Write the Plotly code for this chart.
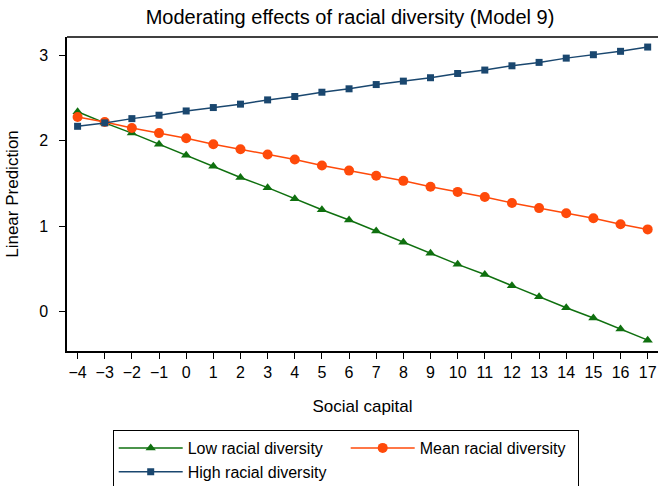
import plotly.graph_objects as go

social_capital = list(range(-4, 18))
low_div = [2.34, 2.21, 2.09, 1.96, 1.83, 1.70, 1.57, 1.45, 1.32, 1.19, 1.07, 0.94,
           0.81, 0.68, 0.55, 0.43, 0.30, 0.17, 0.04, -0.08, -0.21, -0.34]
mean_div = [2.28, 2.22, 2.15, 2.09, 2.03, 1.96, 1.90, 1.84, 1.78, 1.71, 1.65, 1.59,
            1.53, 1.46, 1.40, 1.34, 1.27, 1.21, 1.15, 1.09, 1.02, 0.96]
high_div = [2.17, 2.21, 2.26, 2.30, 2.35, 2.39, 2.43, 2.48, 2.52, 2.57, 2.61, 2.66,
            2.70, 2.74, 2.79, 2.83, 2.88, 2.92, 2.97, 3.01, 3.05, 3.10]
y_ticks = [0, 1, 2, 3]

font = "Liberation Sans, Arial, sans-serif"

fig = go.Figure()
fig.add_trace(go.Scatter(x=social_capital, y=low_div, mode="lines+markers",
                         name="Low racial diversity",
                         line=dict(color="#0f700f", width=1.5),
                         marker=dict(symbol="triangle-up", size=9, color="#0f700f")))
fig.add_trace(go.Scatter(x=social_capital, y=mean_div, mode="lines+markers",
                         name="Mean racial diversity",
                         line=dict(color="#ff4a0a", width=1.5),
                         marker=dict(symbol="circle", size=10, color="#ff4a0a")))
fig.add_trace(go.Scatter(x=social_capital, y=high_div, mode="lines+markers",
                         name="High racial diversity",
                         line=dict(color="#1a476f", width=1.5),
                         marker=dict(symbol="square", size=7, color="#1a476f")))

fig.update_layout(
    width=658, height=486,
    margin=dict(l=67, r=0, t=37, b=135, autoexpand=False),
    paper_bgcolor="white", plot_bgcolor="white",
    font=dict(family=font, size=16, color="black"),
    title=dict(text="Moderating effects of racial diversity (Model 9)",
               x=350 / 658, xanchor="center", y=1 - 17 / 486, yanchor="middle",
               font=dict(size=20)),
    showlegend=True,
    legend=dict(orientation="h", x=(112.7 - 67) / 591, xanchor="left",
                y=(351 - 430) / 314, yanchor="top",
                bordercolor="black", borderwidth=1, bgcolor="white",
                entrywidth=153, entrywidthmode="pixels", itemwidth=64,
                traceorder="normal", font=dict(size=16)),
)
fig.update_xaxes(range=[-4.39, 17.38], tickmode="array", tickvals=social_capital,
                 ticktext=[str(v).replace("-", "\u2212") for v in social_capital],
                 showgrid=False, zeroline=False, showline=True, linecolor="black",
                 linewidth=1.5, ticks="outside", ticklen=6, automargin=False,
                 tickcolor="black", tickfont=dict(size=16),
                 title=dict(text="Social capital", standoff=20, font=dict(size=17)))
fig.update_yaxes(range=[-0.467, 3.218], tickmode="array", tickvals=y_ticks,
                 showgrid=False, zeroline=False, showline=True, linecolor="black",
                 linewidth=1.5, ticks="outside", ticklen=6, tickcolor="black",
                 automargin=False, tickfont=dict(size=16), ticklabelstandoff=8,
                 title=dict(text="Linear Prediction", standoff=16, font=dict(size=17)))
fig.add_shape(type="line", xref="paper", yref="paper", x0=0, x1=1, y0=1, y1=1,
              line=dict(color="black", width=1.5))

fig.write_html("out.html", config={"displayModeBar": False},
               post_script="document.body.style.margin='0';document.body.style.padding='0';")
